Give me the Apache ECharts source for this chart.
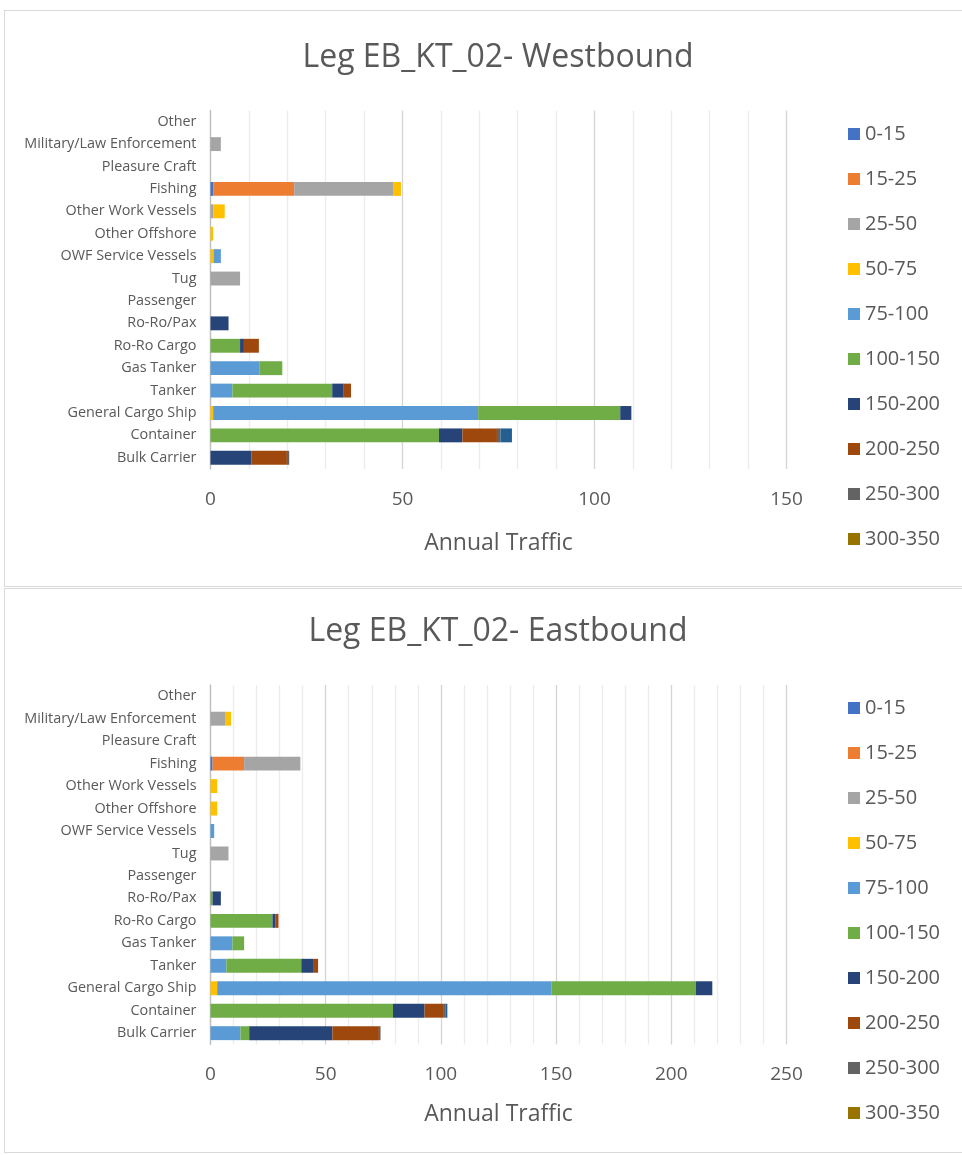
<!DOCTYPE html>
<html>
<head>
<meta charset="utf-8">
<title>Leg EB_KT_02 annual traffic</title>
<script src="https://cdn.jsdelivr.net/npm/echarts@6/dist/echarts.min.js"></script>
<style>
  html, body { margin: 0; padding: 0; background: #ffffff; overflow: hidden; width: 962px; height: 1155px; }
  .box { position: absolute; border: 1.5px solid #d9d9d9; box-sizing: border-box; }
  .chart { position: absolute; left: 0; width: 962px; }
</style>
</head>
<body>
<div class="box" style="left:4px; top:10px; width:1000px; height:577px;"></div>
<div class="box" style="left:4px; top:588px; width:1000px; height:565px;"></div>
<div id="west" class="chart" style="top:0; height:588px;"></div>
<div id="east" class="chart" style="top:588px; height:567px;"></div>
<script>
// Vessel types, listed from the bottom row of the chart to the top row
const categories = [
  'Bulk Carrier', 'Container', 'General Cargo Ship', 'Tanker', 'Gas Tanker',
  'Ro-Ro Cargo', 'Ro-Ro/Pax', 'Passenger', 'Tug', 'OWF Service Vessels',
  'Other Offshore', 'Other Work Vessels', 'Fishing', 'Pleasure Craft',
  'Military/Law Enforcement', 'Other'
];

// Vessel length bands (m); the last band is stacked but not listed in the legend
const bands = ['0-15', '15-25', '25-50', '50-75', '75-100', '100-150', '150-200', '200-250', '250-300', '300-350', '350-400'];
const legendBands = bands.slice(0, 10);
const bandColors = ['#4472C4', '#ED7D31', '#A5A5A5', '#FFC000', '#5B9BD5', '#70AD47', '#264478', '#9E480E', '#636363', '#997300', '#255E91'];

// Westbound annual traffic per band, one value per vessel type (order of categories)
const west_0_15    = [0, 0, 0, 0, 0, 0, 0, 0, 0, 0, 0, 0, 0.7, 0, 0, 0];
const west_15_25   = [0, 0, 0, 0, 0, 0, 0, 0, 0, 0, 0, 0, 21.1, 0, 0, 0];
const west_25_50   = [0, 0, 0, 0, 0, 0, 0, 0, 7.7, 0, 0, 0.7, 25.9, 0, 2.7, 0];
const west_50_75   = [0, 0, 0.7, 0, 0, 0, 0, 0, 0, 0.8, 0.7, 3.0, 1.9, 0, 0, 0];
const west_75_100  = [0, 0, 69, 5.7, 12.7, 0, 0, 0, 0, 1.9, 0, 0, 0, 0, 0, 0];
const west_100_150 = [0, 59.5, 37, 26, 6.0, 7.7, 0, 0, 0, 0, 0, 0, 0, 0, 0, 0];
const west_150_200 = [10.7, 6.1, 2.9, 3.0, 0, 1.0, 4.7, 0, 0, 0, 0, 0, 0, 0, 0, 0];
const west_200_250 = [9.2, 9.0, 0, 1.9, 0, 3.9, 0, 0, 0, 0, 0, 0, 0, 0, 0, 0];
const west_250_300 = [0.6, 0.9, 0, 0, 0, 0, 0, 0, 0, 0, 0, 0, 0, 0, 0, 0];
const west_300_350 = [0, 0, 0, 0, 0, 0, 0, 0, 0, 0, 0, 0, 0, 0, 0, 0];
const west_350_400 = [0, 3.0, 0, 0, 0, 0, 0, 0, 0, 0, 0, 0, 0, 0, 0, 0];

// Eastbound annual traffic per band
const east_0_15    = [0, 0, 0, 0, 0, 0, 0, 0, 0, 0, 0, 0, 0.9, 0, 0, 0];
const east_15_25   = [0, 0, 0, 0, 0, 0, 0, 0, 0, 0, 0, 0, 13.7, 0, 0, 0];
const east_25_50   = [0, 0, 0, 0, 0, 0, 0, 0, 7.8, 0, 0, 0, 24.4, 0, 6.6, 0];
const east_50_75   = [0, 0, 2.9, 0, 0, 0, 0, 0, 0, 0, 2.9, 2.9, 0, 0, 2.3, 0];
const east_75_100  = [13.0, 0, 145, 6.9, 9.5, 0, 0, 0, 0, 1.6, 0, 0, 0, 0, 0, 0];
const east_100_150 = [3.8, 79.2, 62.7, 32.5, 5.1, 26.9, 0.9, 0, 0, 0, 0, 0, 0, 0, 0, 0];
const east_150_200 = [36.1, 13.7, 7.2, 5.1, 0, 1.2, 3.6, 0, 0, 0, 0, 0, 0, 0, 0, 0];
const east_200_250 = [20.2, 8.4, 0, 2.2, 0, 1.4, 0, 0, 0, 0, 0, 0, 0, 0, 0, 0];
const east_250_300 = [0.7, 0.6, 0, 0, 0, 0, 0, 0, 0, 0, 0, 0, 0, 0, 0, 0];
const east_300_350 = [0, 0, 0, 0, 0, 0, 0, 0, 0, 0, 0, 0, 0, 0, 0, 0];
const east_350_400 = [0, 0.9, 0, 0, 0, 0, 0, 0, 0, 0, 0, 0, 0, 0, 0, 0];

const westBands = [west_0_15, west_15_25, west_25_50, west_50_75, west_75_100, west_100_150,
  west_150_200, west_200_250, west_250_300, west_300_350, west_350_400];
const eastBands = [east_0_15, east_15_25, east_25_50, east_50_75, east_75_100, east_100_150,
  east_150_200, east_200_250, east_250_300, east_300_350, east_350_400];

const FONT = 'Open Sans';
const TEXT = '#595959';

function buildOption(cfg) {
  // Light minor grid every 10, darker line every 50
  const splitColors = ['#d4d4d4', '#ececec', '#ececec', '#ececec', '#ececec'];
  return {
    animation: false,
    textStyle: { fontFamily: FONT, color: TEXT },
    title: {
      text: cfg.title,
      left: 493, top: cfg.titleTop, textAlign: 'center',
      textStyle: { fontFamily: FONT, fontSize: 32, fontWeight: 'normal', color: TEXT }
    },
    legend: {
      data: legendBands,
      orient: 'vertical',
      left: 843, top: cfg.legendTop,
      itemWidth: 12, itemHeight: 12, itemGap: 25,
      icon: 'rect',
      textStyle: { fontFamily: FONT, fontSize: 20, color: TEXT, lineHeight: 20 },
      selectedMode: false
    },
    grid: { left: 210.5, top: cfg.gridTop, width: 576, height: cfg.gridHeight, containLabel: false },
    xAxis: {
      type: 'value', min: 0, max: cfg.max, interval: 10,
      name: 'Annual Traffic', nameLocation: 'middle', nameGap: cfg.nameGap,
      nameTextStyle: { fontFamily: FONT, fontSize: 23, color: TEXT },
      axisLine: { show: false }, axisTick: { show: false },
      axisLabel: {
        margin: 21, fontFamily: FONT, fontSize: 19, color: TEXT,
        formatter: v => (v % 50 === 0 ? String(v) : '')
      },
      splitLine: { show: true, lineStyle: { color: splitColors, width: 1.3 } }
    },
    yAxis: {
      type: 'category', data: categories,
      axisLine: { show: true, lineStyle: { color: '#bfbfbf', width: 1.3 } },
      axisTick: { show: false },
      axisLabel: { margin: 14, fontFamily: FONT, fontSize: 14.4, color: TEXT }
    },
    series: bands.map((b, i) => ({
      name: b, type: 'bar', stack: 'total',
      barCategoryGap: '38%',
      itemStyle: { color: bandColors[i] },
      data: cfg.values[i]
    }))
  };
}

const westChart = echarts.init(document.getElementById('west'), null, { renderer: 'canvas' });
westChart.setOption(buildOption({
  title: 'Leg EB_KT_02- Westbound', titleTop: 37, legendTop: 119, nameGap: 63,
  gridTop: 110.5, gridHeight: 358.5, max: 150, values: westBands
}));

const eastChart = echarts.init(document.getElementById('east'), null, { renderer: 'canvas' });
eastChart.setOption(buildOption({
  title: 'Leg EB_KT_02- Eastbound', titleTop: 23, legendTop: 105, nameGap: 59,
  gridTop: 97, gridHeight: 359.4, max: 250, values: eastBands
}));
</script>
</body>
</html>
